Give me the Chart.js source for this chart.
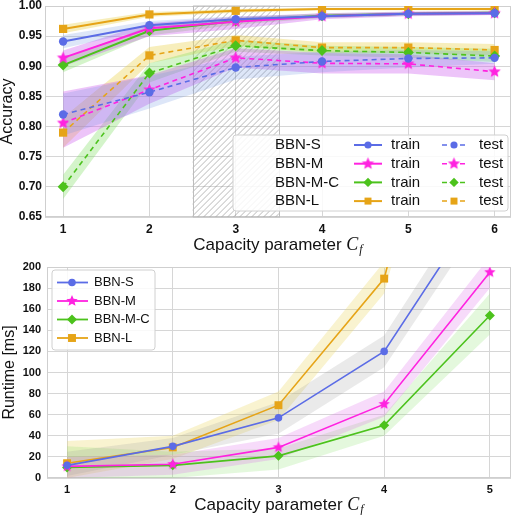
<!DOCTYPE html>
<html>
<head>
<meta charset="utf-8">
<script src="https://cdn.jsdelivr.net/npm/chart.js@4.4.0/dist/chart.umd.min.js"></script>
<style>
  html, body { margin: 0; padding: 0; background: #fff; }
  .box { position: relative; width: 517px; }
</style>
</head>
<body>
<div class="box" style="height:258px"><canvas id="accChart"></canvas></div>
<div class="box" style="height:257px"><canvas id="runChart"></canvas></div>
<script>
// ---- data ----
const models = ["BBN-S", "BBN-M", "BBN-M-C", "BBN-L"];
const capacityAcc = [1, 2, 3, 4, 5, 6];
const capacityRun = [1, 2, 3, 4, 5];
const accTicks = [0.65, 0.70, 0.75, 0.80, 0.85, 0.90, 0.95, 1.00];
const runTicks = [0, 20, 40, 60, 80, 100, 120, 140, 160, 180, 200];
const hatchFrom = 2.5, hatchTo = 3.5;

// accuracy, train
const trainS = [0.941, 0.968, 0.978, 0.983, 0.987, 0.988];
const trainSLo = [0.930, 0.961, 0.973, 0.980, 0.984, 0.985];
const trainSHi = [0.952, 0.975, 0.983, 0.986, 0.990, 0.991];
const trainM = [0.914, 0.963, 0.974, 0.983, 0.987, 0.988];
const trainMLo = [0.900, 0.950, 0.962, 0.978, 0.983, 0.985];
const trainMHi = [0.926, 0.972, 0.982, 0.988, 0.991, 0.992];
const trainMC = [0.902, 0.959, 0.975, 0.984, 0.987, 0.989];
const trainMCLo = [0.890, 0.951, 0.969, 0.980, 0.984, 0.986];
const trainMCHi = [0.913, 0.967, 0.981, 0.988, 0.990, 0.992];
const trainL = [0.962, 0.986, 0.992, 0.995, 0.995, 0.995];
const trainLLo = [0.955, 0.982, 0.989, 0.993, 0.993, 0.993];
const trainLHi = [0.969, 0.990, 0.995, 0.997, 0.997, 0.997];

// accuracy, test
const testS = [0.820, 0.857, 0.898, 0.908, 0.913, 0.914];
const testSLo = [0.785, 0.830, 0.878, 0.890, 0.898, 0.904];
const testSHi = [0.855, 0.884, 0.916, 0.924, 0.927, 0.925];
const testM = [0.806, 0.861, 0.914, 0.905, 0.904, 0.891];
const testMLo = [0.765, 0.838, 0.898, 0.888, 0.888, 0.877];
const testMHi = [0.858, 0.885, 0.930, 0.922, 0.920, 0.905];
const testMC = [0.700, 0.889, 0.934, 0.926, 0.923, 0.917];
const testMCLo = [0.680, 0.873, 0.924, 0.918, 0.914, 0.907];
const testMCHi = [0.720, 0.905, 0.944, 0.934, 0.932, 0.929];
const testL = [0.790, 0.918, 0.943, 0.931, 0.931, 0.927];
const testLLo = [0.765, 0.905, 0.934, 0.922, 0.922, 0.918];
const testLHi = [0.815, 0.932, 0.952, 0.940, 0.940, 0.937];

// runtime [ms]
const runS = [12, 30, 57, 120, 272];
const runSLo = [2, 22, 42, 105, 255];
const runSHi = [25, 38, 72, 135, 290];
const runM = [11, 13, 29, 70, 195];
const runMLo = [0, 3, 18, 58, 180];
const runMHi = [20, 22, 38, 82, 210];
const runMC = [10, 12, 21, 50, 154];
const runMCLo = [0, 0, 8, 40, 136];
const runMCHi = [30, 25, 28, 60, 175];
const runL = [14, 29, 69, 189, 580];
const runLLo = [0, 18, 55, 175, 550];
const runLHi = [35, 40, 82, 205, 610];

// ---- styles ----
const colors = ["#5b6ce6", "#ff22e0", "#4cc21c", "#e6a417"];
const accBands = ["rgba(100,140,225,0.22)", "rgba(200,70,235,0.32)", "rgba(120,220,90,0.32)", "rgba(235,210,80,0.38)"];
const runBands = ["rgba(150,150,150,0.2)", "rgba(225,110,235,0.25)", "rgba(130,225,100,0.22)", "rgba(235,215,100,0.3)"];
const SANS = "'Liberation Sans', Arial, sans-serif";

function makeStar(color, r) {
  const c = document.createElement("canvas");
  const s = Math.ceil(r * 2 + 2);
  c.width = s; c.height = s;
  const g = c.getContext("2d");
  g.fillStyle = color;
  g.beginPath();
  for (let i = 0; i < 10; i++) {
    const rad = i % 2 ? r * 0.45 : r;
    const a = -Math.PI / 2 + i * Math.PI / 5;
    g.lineTo(s / 2 + rad * Math.cos(a), s / 2 + rad * Math.sin(a));
  }
  g.closePath();
  g.fill();
  return c;
}
const starBig = makeStar(colors[1], 6.5);
const starSmall = makeStar(colors[1], 6);
const markerAcc = ["circle", starBig, "rectRot", "rect"];
const radiusAcc = [4.2, 6, 5.5, 5.8];
const markerRun = ["circle", starSmall, "rectRot", "rect"];
const radiusRun = [3.8, 6, 5, 5.6];

const xy = (xs, ys) => xs.map((x, i) => ({ x: x, y: ys[i] }));

function band(xs, lo, hi, color) {
  return [
    { data: xy(xs, lo), borderWidth: 0, pointRadius: 0, fill: false, order: 10 },
    { data: xy(xs, hi), borderWidth: 0, pointRadius: 0, fill: "-1", backgroundColor: color, order: 10 },
  ];
}
function line(xs, ys, i, style, r, width, dash) {
  return {
    data: xy(xs, ys), borderColor: colors[i], backgroundColor: colors[i],
    borderWidth: width, borderDash: dash, pointStyle: style, pointRadius: r,
    pointBorderWidth: 0, fill: false, order: 0,
  };
}

function drawMarker(ctx, style, x, y, color, r) {
  ctx.save();
  ctx.fillStyle = color;
  if (style instanceof HTMLCanvasElement) {
    ctx.drawImage(style, x - style.width / 2, y - style.height / 2);
  } else if (style === "circle") {
    ctx.beginPath(); ctx.arc(x, y, r, 0, Math.PI * 2); ctx.fill();
  } else if (style === "rectRot") {
    ctx.beginPath(); ctx.moveTo(x, y - r); ctx.lineTo(x + r, y); ctx.lineTo(x, y + r); ctx.lineTo(x - r, y); ctx.closePath(); ctx.fill();
  } else {
    const s = r * Math.SQRT1_2; ctx.fillRect(x - s, y - s, 2 * s, 2 * s);
  }
  ctx.restore();
}

function roundBox(ctx, x, y, w, h, rad) {
  ctx.beginPath();
  ctx.moveTo(x + rad, y);
  ctx.arcTo(x + w, y, x + w, y + h, rad);
  ctx.arcTo(x + w, y + h, x, y + h, rad);
  ctx.arcTo(x, y + h, x, y, rad);
  ctx.arcTo(x, y, x + w, y, rad);
  ctx.closePath();
}

// frame around the plot area
const framePlugin = {
  id: "frame",
  beforeDatasetsDraw(chart) {
    const a = chart.chartArea, ctx = chart.ctx;
    ctx.save();
    ctx.strokeStyle = "#cfcfcf";
    ctx.lineWidth = 1;
    ctx.strokeRect(a.left + 0.5, a.top + 0.5, a.right - a.left - 1, a.bottom - a.top - 1);
    ctx.restore();
  },
};

// x axis title with math C_f
function xTitlePlugin(dy, size) {
  return {
    id: "xtitle",
    afterDraw(chart) {
      const ctx = chart.ctx, a = chart.chartArea;
      const main = "Capacity parameter ";
      ctx.save();
      ctx.textBaseline = "middle";
      ctx.fillStyle = "#111";
      ctx.font = size + "px " + SANS;
      const w1 = ctx.measureText(main).width;
      ctx.font = "italic " + (size + 1) + "px 'Liberation Serif', serif";
      const w2 = ctx.measureText("C").width;
      ctx.font = "italic " + Math.round(size * 0.7) + "px 'Liberation Serif', serif";
      const w3 = ctx.measureText("f").width;
      let x = (a.left + a.right) / 2 - (w1 + w2 + w3 + 1) / 2;
      const y = a.bottom + dy;
      ctx.textAlign = "left";
      ctx.font = size + "px " + SANS;
      ctx.fillText(main, x, y);
      x += w1;
      ctx.font = "italic " + (size + 1) + "px 'Liberation Serif', serif";
      ctx.fillText("C", x, y);
      x += w2 + 1;
      ctx.font = "italic " + Math.round(size * 0.7) + "px 'Liberation Serif', serif";
      ctx.fillText("f", x, y + 5);
      ctx.restore();
    },
  };
}

const hatchPlugin = {
  id: "hatch",
  beforeDatasetsDraw(chart) {
    const { ctx, chartArea: a } = chart;
    const xs = chart.scales.x;
    const x0 = xs.getPixelForValue(hatchFrom), x1 = xs.getPixelForValue(hatchTo);
    const h = a.bottom - a.top;
    ctx.save();
    ctx.beginPath();
    ctx.rect(x0, a.top, x1 - x0, h);
    ctx.clip();
    ctx.strokeStyle = "rgba(130,130,130,0.7)";
    ctx.lineWidth = 0.8;
    ctx.beginPath();
    for (let k = x0 - h; k < x1; k += 6) {
      ctx.moveTo(k, a.bottom);
      ctx.lineTo(k + h, a.top);
    }
    ctx.stroke();
    ctx.restore();
    ctx.save();
    ctx.strokeStyle = "#bdbdbd";
    ctx.lineWidth = 1;
    ctx.strokeRect(Math.round(x0) + 0.5, a.top, Math.round(x1 - x0), h);
    ctx.restore();
  },
};

const accLegendPlugin = {
  id: "accLegend",
  afterDraw(chart) {
    const ctx = chart.ctx, a = chart.chartArea;
    const w = 275, h = 76;
    const left = a.right - 3 - w, top = a.bottom - 6 - h;
    ctx.save();
    roundBox(ctx, left, top, w, h, 3);
    ctx.fillStyle = "rgba(255,255,255,0.85)";
    ctx.fill();
    ctx.strokeStyle = "#d0d0d0";
    ctx.lineWidth = 1;
    ctx.stroke();
    ctx.font = "15px " + SANS;
    ctx.textBaseline = "middle";
    ctx.fillStyle = "#111";
    models.forEach((m, i) => {
      const y = top + 10 + i * 18.7;
      ctx.fillStyle = "#111";
      ctx.fillText(m, left + 42, y);
      ctx.fillText("train", left + 158, y);
      ctx.fillText("test", left + 246, y);
      ctx.strokeStyle = colors[i];
      ctx.lineWidth = 2;
      ctx.setLineDash([]);
      ctx.beginPath(); ctx.moveTo(left + 121, y); ctx.lineTo(left + 149, y); ctx.stroke();
      drawMarker(ctx, markerAcc[i], left + 135, y, colors[i], radiusAcc[i] * 0.85);
      ctx.lineWidth = 1.5;
      ctx.setLineDash([5, 4]);
      ctx.beginPath(); ctx.moveTo(left + 209, y); ctx.lineTo(left + 233, y); ctx.stroke();
      ctx.setLineDash([]);
      drawMarker(ctx, markerAcc[i], left + 221, y, colors[i], radiusAcc[i] * 0.85);
    });
    ctx.restore();
  },
};

const runLegendPlugin = {
  id: "runLegend",
  afterDraw(chart) {
    const ctx = chart.ctx, a = chart.chartArea;
    const left = a.left + 5, top = a.top + 3, w = 103, h = 80;
    ctx.save();
    roundBox(ctx, left, top, w, h, 3);
    ctx.fillStyle = "rgba(255,255,255,0.85)";
    ctx.fill();
    ctx.strokeStyle = "#d0d0d0";
    ctx.lineWidth = 1;
    ctx.stroke();
    ctx.font = "13px " + SANS;
    ctx.textBaseline = "middle";
    models.forEach((m, i) => {
      const y = top + 12.5 + i * 18.5;
      ctx.fillStyle = "#111";
      ctx.fillText(m, left + 42, y);
      ctx.strokeStyle = colors[i];
      ctx.lineWidth = 1.8;
      ctx.beginPath(); ctx.moveTo(left + 5, y); ctx.lineTo(left + 36, y); ctx.stroke();
      drawMarker(ctx, markerRun[i], left + 20, y, colors[i], radiusRun[i]);
    });
    ctx.restore();
  },
};

function fixedTicks(values) {
  return (scale) => { scale.ticks = values.map((v) => ({ value: v })); };
}

function scales(o) {
  return {
    x: {
      type: "linear", min: o.xmin, max: o.xmax,
      afterBuildTicks: fixedTicks(o.xTicks),
      afterFit: (s) => { s.height = o.xHeight; s.paddingLeft = 0; s.paddingRight = 0; },
      grid: { color: "#d6d6d6", drawTicks: false },
      border: { display: false },
      ticks: { padding: 5, color: "#111", font: { family: SANS, size: o.tickSize, weight: "bold" }, callback: (v) => v },
    },
    y: {
      type: "linear", min: o.ymin, max: o.ymax,
      afterBuildTicks: fixedTicks(o.yTicks),
      afterFit: (s) => { s.width = o.yWidth; s.paddingTop = 0; s.paddingBottom = 0; },
      grid: { color: "#d6d6d6", drawTicks: false },
      border: { display: false },
      title: { display: true, text: o.yTitle, color: "#111", padding: { top: o.yTitlePad, bottom: 0 }, font: { family: SANS, size: 16, lineHeight: 1 } },
      ticks: { padding: o.tickPad, color: "#111", font: { family: SANS, size: o.tickSize, weight: "bold" }, callback: o.yFormat },
    },
  };
}

const commonOpts = {
  responsive: true,
  maintainAspectRatio: false,
  animation: false,
  plugins: { legend: { display: false }, tooltip: { enabled: false } },
  elements: { line: { tension: 0 } },
};

// ---- accuracy chart ----
const accTrain = [trainS, trainM, trainMC, trainL];
const accTrainLo = [trainSLo, trainMLo, trainMCLo, trainLLo];
const accTrainHi = [trainSHi, trainMHi, trainMCHi, trainLHi];
const accTest = [testS, testM, testMC, testL];
const accTestLo = [testSLo, testMLo, testMCLo, testLLo];
const accTestHi = [testSHi, testMHi, testMCHi, testLHi];

const accSets = [];
models.forEach((m, i) => {
  accSets.push(...band(capacityAcc, accTestLo[i], accTestHi[i], accBands[i]));
  accSets.push(...band(capacityAcc, accTrainLo[i], accTrainHi[i], accBands[i]));
});
models.forEach((m, i) => {
  accSets.push(line(capacityAcc, accTest[i], i, markerAcc[i], radiusAcc[i], 1.6, [5, 4]));
});
models.forEach((m, i) => {
  accSets.push(line(capacityAcc, accTrain[i], i, markerAcc[i], radiusAcc[i], 2, []));
});

new Chart(document.getElementById("accChart"), {
  type: "line",
  data: { datasets: accSets },
  options: Object.assign({}, commonOpts, {
    layout: { padding: { top: 5, right: 2, left: 0, bottom: 0 } },
    scales: scales({
      xmin: 0.79, xmax: 6.19, xTicks: capacityAcc, xHeight: 41,
      ymin: 0.65, ymax: 1.0, yTicks: accTicks, yWidth: 45, yTitle: "Accuracy", yTitlePad: 0,
      tickSize: 12, tickPad: 3, yFormat: (v) => v.toFixed(2),
    }),
  }),
  plugins: [framePlugin, hatchPlugin, accLegendPlugin, xTitlePlugin(28, 17)],
});

// ---- runtime chart ----
const run = [runS, runM, runMC, runL];
const runLo = [runSLo, runMLo, runMCLo, runLLo];
const runHi = [runSHi, runMHi, runMCHi, runLHi];

const runSets = [];
models.forEach((m, i) => {
  runSets.push(...band(capacityRun, runLo[i], runHi[i], runBands[i]));
});
models.forEach((m, i) => {
  runSets.push(line(capacityRun, run[i], i, markerRun[i], radiusRun[i], 1.6, []));
});

new Chart(document.getElementById("runChart"), {
  type: "line",
  data: { datasets: runSets },
  options: Object.assign({}, commonOpts, {
    layout: { padding: { top: 9, right: 2, left: 0, bottom: 0 } },
    scales: scales({
      xmin: 0.81, xmax: 5.2, xTicks: capacityRun, xHeight: 37,
      ymin: 0, ymax: 200, yTicks: runTicks, yWidth: 47, yTitle: "Runtime [ms]", yTitlePad: 2,
      tickSize: 11, tickPad: 6, yFormat: (v) => v,
    }),
  }),
  plugins: [framePlugin, runLegendPlugin, xTitlePlugin(27, 17)],
});
</script>
</body>
</html>
